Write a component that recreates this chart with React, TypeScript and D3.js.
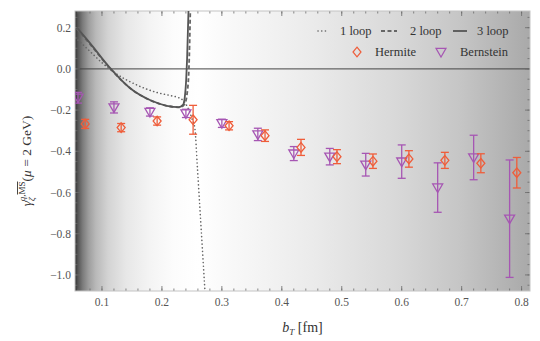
import React from "react";
import * as d3 from "d3";

// lattice results
const bernsteinB = [0.06, 0.12, 0.18, 0.24, 0.3, 0.36, 0.42, 0.48, 0.54, 0.6, 0.66, 0.72, 0.78];
const bernsteinVal = [-0.14, -0.187, -0.209, -0.216, -0.264, -0.318, -0.411, -0.426, -0.465, -0.45, -0.576, -0.43, -0.727];
const bernsteinErr = [0.026, 0.027, 0.02, 0.02, 0.02, 0.03, 0.034, 0.04, 0.055, 0.081, 0.12, 0.108, 0.285];

const hermiteB = [0.072, 0.132, 0.192, 0.252, 0.312, 0.372, 0.432, 0.492, 0.552, 0.612, 0.672, 0.732, 0.792];
const hermiteVal = [-0.267, -0.285, -0.253, -0.247, -0.276, -0.324, -0.381, -0.426, -0.448, -0.437, -0.444, -0.458, -0.504];
const hermiteErr = [0.022, 0.02, 0.02, 0.07, 0.02, 0.028, 0.039, 0.034, 0.035, 0.04, 0.039, 0.046, 0.074];

// perturbative curves
const loop1B = [0.06, 0.08, 0.1, 0.119, 0.158, 0.191, 0.215, 0.228, 0.236, 0.245, 0.25, 0.255, 0.259, 0.263, 0.267, 0.272];
const loop1Val = [0.14, 0.085, 0.03, -0.014, -0.078, -0.114, -0.13, -0.14, -0.155, -0.2, -0.24, -0.29, -0.47, -0.66, -0.85, -1.09];
const loop2B = [0.058, 0.08, 0.113, 0.15, 0.18, 0.21, 0.23, 0.238, 0.242, 0.245, 0.2475];
const loop2Val = [0.195, 0.12, 0.004, -0.1, -0.152, -0.18, -0.187, -0.17, -0.12, 0.0, 0.3];
const loop3B = [0.058, 0.08, 0.113, 0.147, 0.18, 0.208, 0.228, 0.235, 0.238, 0.2405, 0.242, 0.2445];
const loop3Val = [0.2, 0.125, 0.006, -0.094, -0.151, -0.179, -0.186, -0.175, -0.14, -0.05, 0.05, 0.3];

const xTicks = [0.1, 0.2, 0.3, 0.4, 0.5, 0.6, 0.7, 0.8];
const yTicks = [0.2, 0.0, -0.2, -0.4, -0.6, -0.8, -1.0];

const bgStops: [number, string][] = [
  [0.055, "#303030"], [0.06, "#555"], [0.068, "#7c7c7c"], [0.078, "#9e9e9e"], [0.09, "#b9b9b9"],
  [0.11, "#d3d3d3"], [0.14, "#e7e7e7"], [0.18, "#f4f4f4"], [0.22, "#fcfcfc"], [0.26, "#fff"],
  [0.32, "#f8f8f8"], [0.45, "#ebebeb"], [0.6, "#d7d7d7"], [0.7, "#c5c5c5"], [0.814, "#a9a9a9"],
];

const W = 540, H = 341;
const m = { left: 75, right: 10, top: 11, bottom: 50 };
const ORANGE = "#ef5d3a";
const PURPLE = "#a656b3";
const FONT = "'Liberation Serif', 'DejaVu Serif', serif";

const fmt = (v: number) => (v < 0 ? "\u2212" : "") + Math.abs(v).toFixed(1);

export default function App() {
  const x = d3.scaleLinear().domain([0.055, 0.814]).range([m.left, W - m.right]);
  const y = d3.scaleLinear().domain([-1.078, 0.281]).range([H - m.bottom, m.top]);
  const [x0, x1] = x.range();
  const [y0, y1] = y.range();

  const line = d3.line<[number, number]>().x((d) => x(d[0])).y((d) => y(d[1])).curve(d3.curveMonotoneX);
  const zip = (a: number[], b: number[]) => a.map((v, i) => [v, b[i]] as [number, number]);

  const xMinor = d3.range(0.06, 0.811, 0.02);
  const yMinor = d3.range(-1.05, 0.26, 0.05);

  const tri = "M-5,-3.6L5,-3.6L0,5Z";
  const dia = "M0,-4.8L4,0L0,4.8L-4,0Z";

  const errBar = (bx: number, v: number, e: number, col: string, key: string) => (
    <g key={key} stroke={col} strokeWidth={1.3} fill="none">
      <line x1={x(bx)} x2={x(bx)} y1={y(v + e)} y2={y(v - e)} />
      <line x1={x(bx) - 4} x2={x(bx) + 4} y1={y(v + e)} y2={y(v + e)} />
      <line x1={x(bx) - 4} x2={x(bx) + 4} y1={y(v - e)} y2={y(v - e)} />
    </g>
  );

  return (
    <svg width={W} height={H} style={{ position: "absolute", left: 0, top: 0 }} fontFamily={FONT}>
      <defs>
        <linearGradient id="bg" x1="0" x2="1" y1="0" y2="0">
          {bgStops.map(([b, c], i) => (
            <stop key={i} offset={(x(b) - x0) / (x1 - x0)} stopColor={c} />
          ))}
        </linearGradient>
        <clipPath id="plot">
          <rect x={x0} y={y1} width={x1 - x0} height={y0 - y1} />
        </clipPath>
      </defs>
      <rect x={x0} y={y1} width={x1 - x0} height={y0 - y1} fill="url(#bg)" />
      <line x1={x0} x2={x1} y1={y(0)} y2={y(0)} stroke="#444" strokeWidth={1} />

      {/* ticks */}
      <g stroke="#6a6a6a" strokeWidth={0.8}>
        {xTicks.map((t) => (
          <g key={"xt" + t}>
            <line x1={x(t)} x2={x(t)} y1={y0} y2={y0 - 5} />
            <line x1={x(t)} x2={x(t)} y1={y1} y2={y1 + 5} />
          </g>
        ))}
        {xMinor.map((t) => (
          <g key={"xm" + t}>
            <line x1={x(t)} x2={x(t)} y1={y0} y2={y0 - 2.5} />
            <line x1={x(t)} x2={x(t)} y1={y1} y2={y1 + 2.5} />
          </g>
        ))}
        {yTicks.map((t) => (
          <g key={"yt" + t}>
            <line x1={x0} x2={x0 + 5} y1={y(t)} y2={y(t)} />
            <line x1={x1} x2={x1 - 5} y1={y(t)} y2={y(t)} />
          </g>
        ))}
        {yMinor.map((t) => (
          <g key={"ym" + t}>
            <line x1={x0} x2={x0 + 2.5} y1={y(t)} y2={y(t)} />
            <line x1={x1} x2={x1 - 2.5} y1={y(t)} y2={y(t)} />
          </g>
        ))}
      </g>
      <rect x={x0} y={y1} width={x1 - x0} height={y0 - y1} fill="none" stroke="#c4c4c4" strokeWidth={1} />

      {/* curves */}
      <g clipPath="url(#plot)" fill="none">
        <path d={line(zip(loop1B, loop1Val)) || ""} stroke="#666" strokeWidth={1.6} strokeDasharray="0.1 3.6" strokeLinecap="round" />
        <path d={line(zip(loop2B, loop2Val)) || ""} stroke="#666" strokeWidth={1.8} strokeDasharray="4 2.5" />
        <path d={line(zip(loop3B, loop3Val)) || ""} stroke="#555" strokeWidth={1.8} />
      </g>

      {/* data */}
      <g clipPath="url(#plot)">
        {bernsteinB.map((b, i) => errBar(b, bernsteinVal[i], bernsteinErr[i], PURPLE, "be" + i))}
        {bernsteinB.map((b, i) => (
          <path key={"bm" + i} d={tri} transform={`translate(${x(b)},${y(bernsteinVal[i])})`} fill="none" stroke={PURPLE} strokeWidth={1.3} />
        ))}
        {hermiteB.map((b, i) => errBar(b, hermiteVal[i], hermiteErr[i], ORANGE, "he" + i))}
        {hermiteB.map((b, i) => (
          <path key={"hm" + i} d={dia} transform={`translate(${x(b)},${y(hermiteVal[i])})`} fill="none" stroke={ORANGE} strokeWidth={1.3} />
        ))}
      </g>

      {/* tick labels */}
      <g fontSize={11.5} fill="#555">
        {xTicks.map((t) => (
          <text key={"xl" + t} x={x(t)} y={y0 + 15} textAnchor="middle">{t.toFixed(1)}</text>
        ))}
        {yTicks.map((t) => (
          <text key={"yl" + t} x={x0 - 4} y={y(t) + 4} textAnchor="end">{fmt(t)}</text>
        ))}
      </g>

      {/* axis labels */}
      <text x={(x0 + x1) / 2} y={H - 9} textAnchor="middle" fontSize={14} fill="#333">
        <tspan fontStyle="italic">b</tspan>
        <tspan fontStyle="italic" fontSize={9} dy={3}>T</tspan>
        <tspan dy={-3}> [fm]</tspan>
      </text>
      <text transform={`translate(31,${(y0 + y1) / 2 + 10}) rotate(-90)`} textAnchor="middle" fontSize={13.5} fill="#333">
        <tspan fontStyle="italic">γ</tspan>
        <tspan fontStyle="italic" fontSize={9} dy={4}>ζ</tspan>
        <tspan fontSize={9} dx={-4} dy={-10}><tspan fontStyle="italic">q</tspan>,<tspan textDecoration="overline">MS</tspan></tspan>
        <tspan dy={6}>(</tspan>
        <tspan fontStyle="italic">μ</tspan>
        <tspan> = 2 GeV)</tspan>
      </text>

      {/* legend */}
      <g fontSize={12.5} fill="#333">
        <line x1={318} x2={328} y1={31} y2={31} stroke="#666" strokeWidth={1.6} strokeDasharray="0.1 3.6" strokeLinecap="round" />
        <text x={340} y={35}>1 loop</text>
        <line x1={381} x2={397} y1={31} y2={31} stroke="#666" strokeWidth={1.8} strokeDasharray="4 2.5" />
        <text x={410} y={35}>2 loop</text>
        <line x1={453} x2={467} y1={31} y2={31} stroke="#555" strokeWidth={1.8} />
        <text x={477} y={35}>3 loop</text>
        <path d={dia} transform="translate(357,52)" fill="none" stroke={ORANGE} strokeWidth={1.2} />
        <text x={375} y={56}>Hermite</text>
        <path d={tri} transform="translate(441,52)" fill="none" stroke={PURPLE} strokeWidth={1.2} />
        <text x={460} y={56}>Bernstein</text>
      </g>
    </svg>
  );
}
